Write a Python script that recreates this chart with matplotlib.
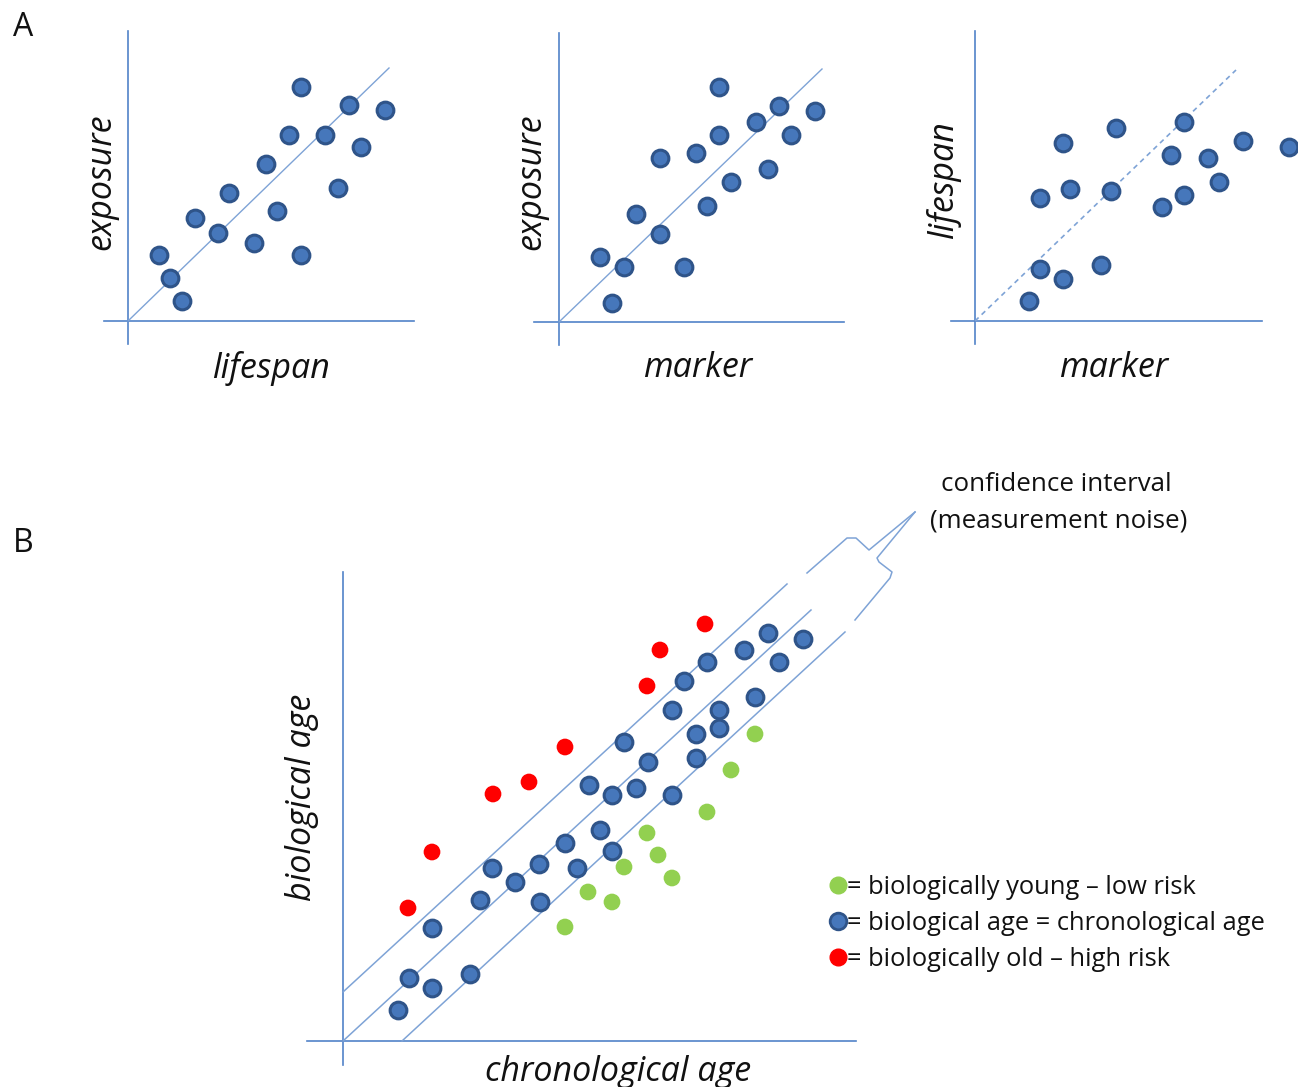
import matplotlib
matplotlib.use("Agg")
import matplotlib.pyplot as plt
from matplotlib.lines import Line2D

W, H, DPI = 1298, 1087, 100
FONT = "Open Sans"
plt.rcParams["font.family"] = [FONT, "DejaVu Sans"]

# ---------------- data (units: arbitrary) ----------------
# Panel A1: exposure vs lifespan
a1_lifespan = [17.3, 22.1, 25.7, 16.1, 19.7, 23.3, 13.8, 21.0, 10.1, 6.7, 14.9, 9.0, 12.6, 17.3, 3.1, 4.2, 5.4]
a1_exposure = [23.4, 21.6, 21.1, 18.6, 18.6, 17.4, 15.7, 13.3, 12.8, 10.3, 11.0, 8.8, 7.8, 6.6, 6.6, 4.3, 2.0]
a1_fit_x = [0.0, 26.1]
a1_fit_y = [0.0, 25.3]

# Panel A2: exposure vs marker
a2_marker = [16.0, 22.0, 25.6, 19.7, 16.0, 23.2, 10.1, 13.7, 20.9, 17.2, 14.8, 7.7, 10.1, 4.1, 6.5, 12.5, 5.3]
a2_exposure = [23.5, 21.6, 21.1, 20.0, 18.7, 18.7, 16.4, 16.9, 15.3, 14.0, 11.6, 10.8, 8.8, 6.5, 5.5, 5.5, 1.9]
a2_fit_x = [0.0, 26.3]
a2_fit_y = [0.0, 25.3]

# Panel A3: lifespan vs marker
a3_marker = [20.9, 14.1, 26.8, 31.4, 8.8, 19.6, 23.3, 24.4, 9.5, 13.6, 6.5, 20.9, 18.7, 6.5, 12.6, 8.8, 5.4]
a3_lifespan = [19.9, 19.3, 18.0, 17.4, 17.8, 16.6, 16.3, 13.9, 13.2, 13.0, 12.3, 12.6, 11.4, 5.2, 5.6, 4.2, 2.0]
a3_fit_x = [0.0, 26.1]
a3_fit_y = [0.0, 25.1]

# Panel B: biological age vs chronological age
old_chrono = [36.2, 31.7, 30.4, 22.2, 18.6, 15.0, 8.9, 6.5]
old_bio = [41.7, 39.1, 35.5, 29.4, 25.9, 24.7, 18.9, 13.3]

eq_chrono = [42.5, 46.0, 40.1, 36.4, 43.6, 34.1, 32.9, 37.6, 41.2, 37.6, 35.3, 28.1, 35.3, 30.5, 24.6, 29.3,
             26.9, 32.9, 25.7, 22.2, 26.9, 19.6, 23.4, 14.9, 17.2, 13.7, 19.7, 8.9, 6.6, 8.9, 12.7, 5.5]
eq_bio = [40.8, 40.2, 39.1, 37.9, 37.9, 36.0, 33.1, 33.1, 34.4, 31.3, 30.7, 29.9, 28.3, 27.9, 25.6, 25.3,
          24.6, 24.6, 21.1, 19.8, 19.0, 17.7, 17.3, 17.3, 15.9, 14.1, 13.9, 11.3, 6.3, 5.3, 6.7, 3.1]

young_chrono = [41.2, 38.8, 36.4, 30.4, 31.5, 28.1, 32.9, 24.5, 26.9, 22.2]
young_bio = [30.7, 27.1, 22.9, 20.8, 18.6, 17.4, 16.3, 14.9, 13.9, 11.4]

# confidence band lines
band_upper = ([0.0, 44.4], [4.9, 45.7])
band_mid = ([0.0, 46.8], [0.0, 43.1])
band_lower = ([5.9, 50.2], [0.0, 40.9])
# brace marking the confidence interval
brace_upper_x = [46.4, 50.4, 51.3, 52.6, 57.2]
brace_upper_y = [46.8, 50.3, 50.3, 49.1, 52.9]
brace_lower_x = [57.2, 53.4, 53.6, 54.9, 54.7, 51.2]
brace_lower_y = [52.9, 48.3, 47.9, 46.9, 46.3, 42.1]

legend_labels = ["= biologically young \u2013 low risk",
                 "= biological age = chronological age",
                 "= biologically old \u2013 high risk"]

# ---------------- styles ----------------
AXIS_C = "#5283C8"
LINE_C = "#7EA3D6"
DOT_FACE = "#4677BB"
DOT_EDGE = "#2F5489"
RED = "#FF0000"
GREEN = "#92D050"
TXT = "#111111"
DOT_S = 145
LAB = 24.5

fig = plt.figure(figsize=(W / DPI, H / DPI), dpi=DPI)


def make_ax(x0, x1, y0, y1, ox, oy):
    ax = fig.add_axes([x0 / W, 1 - y1 / H, (x1 - x0) / W, (y1 - y0) / H])
    ax.set_xlim((x0 - ox) / 10, (x1 - ox) / 10)
    ax.set_ylim((oy - y1) / 10, (oy - y0) / 10)
    ax.axis("off")
    ax.axhline(0, color=AXIS_C, lw=1.2, clip_on=False)
    ax.axvline(0, color=AXIS_C, lw=1.2, clip_on=False)
    return ax


def dots(ax, x, y):
    ax.scatter(x, y, s=DOT_S, facecolor=DOT_FACE, edgecolor=DOT_EDGE, linewidths=2.2,
               clip_on=False, zorder=3)


def ftext(x, y, s, size=LAB, rot=0, style="italic", ha="center", va="center"):
    fig.text(x / W, 1 - y / H, s, fontsize=size, rotation=rot, style=style,
             ha=ha, va=va, color=TXT, family=[FONT, "DejaVu Sans"])


# Panel A1
ax1 = make_ax(104, 414, 31, 344, 128, 321)
ax1.plot(a1_fit_x, a1_fit_y, color=LINE_C, lw=1.0, clip_on=False)
dots(ax1, a1_lifespan, a1_exposure)

# Panel A2
ax2 = make_ax(534, 844, 33, 345, 559, 322)
ax2.plot(a2_fit_x, a2_fit_y, color=LINE_C, lw=1.0, clip_on=False)
dots(ax2, a2_marker, a2_exposure)

# Panel A3
ax3 = make_ax(951, 1262, 31, 344, 975, 321)
ax3.plot(a3_fit_x, a3_fit_y, color=LINE_C, lw=1.2, ls=(0, (3, 2.5)), clip_on=False)
dots(ax3, a3_marker, a3_lifespan)

# Panel B
axb = make_ax(307, 856, 572, 1065, 343, 1041)
for bx, by in (band_upper, band_mid, band_lower):
    axb.plot(bx, by, color=LINE_C, lw=1.1, clip_on=False)
axb.plot(brace_upper_x, brace_upper_y, color=LINE_C, lw=1.1, clip_on=False, solid_joinstyle="round")
axb.plot(brace_lower_x, brace_lower_y, color=LINE_C, lw=1.1, clip_on=False, solid_joinstyle="round")
dots(axb, eq_chrono, eq_bio)
axb.scatter(old_chrono, old_bio, s=DOT_S, color=RED, edgecolor="none", clip_on=False, zorder=3)
axb.scatter(young_chrono, young_bio, s=DOT_S, color=GREEN, edgecolor="none", clip_on=False, zorder=3)

handles = [
    Line2D([], [], ls="none", marker="o", ms=12, mfc=GREEN, mec=GREEN),
    Line2D([], [], ls="none", marker="o", ms=12, mfc=DOT_FACE, mec=DOT_EDGE, mew=2),
    Line2D([], [], ls="none", marker="o", ms=12, mfc=RED, mec=RED),
]
leg = fig.legend(handles, legend_labels, loc="upper left", bbox_to_anchor=(830 / W, 1 - 875 / H),
                 frameon=False, handlelength=0.6, handletextpad=0.05, labelspacing=0.43,
                 borderaxespad=0, borderpad=0,
                 prop={"family": [FONT, "DejaVu Sans"], "size": 18.4})
for t in leg.get_texts():
    t.set_color(TXT)

# Text labels
ftext(23, 28, "A", size=23, style="normal")
ftext(23, 543, "B", size=23, style="normal")
ftext(101, 182, "exposure", rot=90)
ftext(271, 368, "lifespan")
ftext(531, 182, "exposure", rot=90)
ftext(698, 368, "marker")
ftext(944, 180, "lifespan", rot=90)
ftext(1114, 368, "marker")
ftext(302, 797, "biological age", rot=90)
ftext(618, 1072, "chronological age")
ftext(1056, 485, "confidence interval", size=18.6, style="normal")
ftext(1059, 521, "(measurement noise)", size=18.6, style="normal")

fig.savefig("out.png", dpi=DPI)
